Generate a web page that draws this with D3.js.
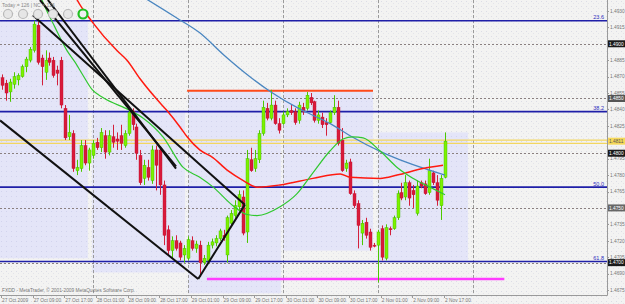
<!DOCTYPE html>
<html><head><meta charset="utf-8">
<script src="https://cdn.jsdelivr.net/npm/d3@7"></script>
<style>body{margin:0;background:#f3f3f3;}svg{display:block}</style>
</head><body><svg id="c" width="625" height="304"></svg>
<script>
// ---- data ----
const timeLabels = ["27 Oct 2009","27 Oct 09:00","27 Oct 17:00","28 Oct 01:00","28 Oct 09:00","28 Oct 17:00","29 Oct 01:00","29 Oct 09:00","29 Oct 17:00","30 Oct 01:00","30 Oct 09:00","30 Oct 17:00","2 Nov 01:00","2 Nov 09:00","2 Nov 17:00"];
const timeLabelBars = [0,8,16,24,32,40,48,56,64,72,80,88,96,104,112];
const open = [1.4869,1.4864,1.4856,1.4863,1.4867,1.4870,1.4879,1.4885,1.4894,1.4917,1.4887,1.4874,1.4887,1.4885,1.4876,1.4885,1.4841,1.4815,1.4818,1.4784,1.4786,1.4807,1.4791,1.4798,1.4810,1.4805,1.4816,1.4801,1.4815,1.4813,1.4816,1.4807,1.4818,1.4838,1.4824,1.4798,1.4777,1.4787,1.4775,1.4803,1.4803,1.4771,1.4730,1.4711,1.4720,1.4718,1.4707,1.4704,1.4720,1.4713,1.4716,1.4700,1.4702,1.4716,1.4718,1.4722,1.4725,1.4707,1.4736,1.4743,1.4751,1.4760,1.4728,1.4794,1.4786,1.4794,1.4818,1.4841,1.4832,1.4844,1.4827,1.4827,1.4835,1.4839,1.4838,1.4830,1.4842,1.4841,1.4851,1.4847,1.4830,1.4833,1.4828,1.4828,1.4837,1.4842,1.4812,1.4786,1.4792,1.4763,1.4754,1.4727,1.4737,1.4728,1.4716,1.4716,1.4731,1.4704,1.4731,1.4731,1.4741,1.4764,1.4760,1.4773,1.4766,1.4745,1.4773,1.4772,1.4764,1.4782,1.4773,1.4752,1.4778];
const high = [1.4872,1.4867,1.4868,1.4874,1.4873,1.4881,1.4888,1.4897,1.4921,1.4920,1.4890,1.4894,1.4892,1.4888,1.4880,1.4888,1.4844,1.4835,1.4821,1.4794,1.4812,1.4812,1.4805,1.4812,1.4814,1.4823,1.4821,1.4821,1.4826,1.4819,1.4826,1.4821,1.4839,1.4841,1.4827,1.4803,1.4794,1.4794,1.4807,1.4807,1.4805,1.4775,1.4734,1.4724,1.4725,1.4720,1.4716,1.4724,1.4724,1.4720,1.4720,1.4707,1.4719,1.4722,1.4725,1.4731,1.4730,1.4743,1.4748,1.4757,1.4766,1.4766,1.4803,1.4805,1.4803,1.4821,1.4848,1.4846,1.4858,1.4848,1.4832,1.4838,1.4841,1.4844,1.4841,1.4847,1.4846,1.4856,1.4855,1.4848,1.4839,1.4837,1.4832,1.4839,1.4853,1.4848,1.4823,1.4794,1.4795,1.4766,1.4757,1.4739,1.4741,1.4731,1.4718,1.4730,1.4734,1.4735,1.4733,1.4743,1.4766,1.4773,1.4780,1.4775,1.4771,1.4775,1.4775,1.4775,1.4795,1.4784,1.4780,1.4780,1.4819];
const low = [1.4858,1.4848,1.4847,1.4859,1.4862,1.4869,1.4874,1.4883,1.4892,1.4881,1.4862,1.4867,1.4880,1.4869,1.4862,1.4841,1.4812,1.4812,1.4783,1.4780,1.4783,1.4789,1.4784,1.4795,1.4803,1.4801,1.4795,1.4798,1.4805,1.4803,1.4803,1.4805,1.4816,1.4821,1.4794,1.4771,1.4771,1.4775,1.4772,1.4766,1.4762,1.4716,1.4707,1.4704,1.4711,1.4702,1.4700,1.4702,1.4711,1.4709,1.4687,1.4698,1.4700,1.4713,1.4715,1.4720,1.4720,1.4700,1.4733,1.4741,1.4748,1.4725,1.4718,1.4783,1.4783,1.4791,1.4816,1.4830,1.4830,1.4826,1.4818,1.4826,1.4833,1.4835,1.4826,1.4827,1.4835,1.4839,1.4844,1.4828,1.4827,1.4823,1.4816,1.4827,1.4835,1.4807,1.4783,1.4783,1.4762,1.4750,1.4713,1.4716,1.4722,1.4711,1.4714,1.4682,1.4702,1.4702,1.4725,1.4730,1.4739,1.4757,1.4757,1.4752,1.4750,1.4743,1.4768,1.4762,1.4762,1.4771,1.4752,1.4739,1.4777];
const close = [1.4862,1.4855,1.4865,1.4870,1.4871,1.4879,1.4886,1.4895,1.4918,1.4883,1.4879,1.4885,1.4883,1.4871,1.4873,1.4844,1.4814,1.4819,1.4786,1.4787,1.4807,1.4791,1.4803,1.4809,1.4805,1.4819,1.4801,1.4816,1.4810,1.4811,1.4809,1.4818,1.4837,1.4826,1.4800,1.4773,1.4789,1.4778,1.4803,1.4789,1.4771,1.4725,1.4711,1.4720,1.4713,1.4705,1.4713,1.4721,1.4713,1.4717,1.4700,1.4704,1.4716,1.4719,1.4722,1.4729,1.4723,1.4741,1.4745,1.4752,1.4762,1.4727,1.4795,1.4784,1.4795,1.4818,1.4842,1.4832,1.4844,1.4827,1.4821,1.4835,1.4838,1.4837,1.4828,1.4844,1.4838,1.4853,1.4846,1.4830,1.4835,1.4826,1.4826,1.4837,1.4842,1.4809,1.4784,1.4791,1.4763,1.4752,1.4734,1.4736,1.4725,1.4714,1.4715,1.4728,1.4705,1.4732,1.4730,1.4741,1.4763,1.4759,1.4773,1.4759,1.4762,1.4770,1.4770,1.4763,1.4784,1.4773,1.4757,1.4777,1.4811];

// moving averages (bar position, price)
const maBlueBar = [36,44,50,56,63,68,75,79,83,88,96,102,112];
const maBlueVal = [1.4942,1.4924,1.4910,1.4890,1.4869,1.4856,1.4841,1.4834,1.4827,1.4816,1.4801,1.4792,1.4780];
const maRedBar = [17,19,22.8,29,31.6,34.9,39.2,41.7,45,46.8,50,53.3,57.1,61,64.5,70.3,78.6,85.5,88,95.6,99.9,106.4,111.5];
const maRedVal = [1.4955,1.4940,1.4920,1.4894,1.4885,1.4868,1.4849,1.4839,1.4824,1.4815,1.4803,1.4796,1.4784,1.4775,1.4769,1.4771,1.4777,1.4781,1.4778,1.4777,1.4780,1.4786,1.4789];
const maGreenBar = [9,10.1,13.4,16.4,18.5,20.5,22.8,25.5,32.4,35.7,40.7,45.8,50,53.4,58.4,62,64.5,70.3,74.6,78.6,82.9,86.2,88.7,91.3,95.6,99.9,104.9,108.2,112];
const maGreenVal = [1.4950,1.4940,1.4915,1.4894,1.4883,1.4871,1.4858,1.4851,1.4839,1.4832,1.4815,1.4787,1.4778,1.4769,1.4752,1.4744,1.4743,1.4751,1.4763,1.4782,1.4802,1.4813,1.4815,1.4814,1.4802,1.4787,1.4775,1.4769,1.4762];

const priceTicks = [1.4930,1.4915,1.4885,1.4870,1.4855,1.4840,1.4825,1.4795,1.4780,1.4765,1.4735,1.4720,1.4705,1.4690,1.4675];
const gridPrices = [1.4900,1.4850,1.4800,1.4750,1.4700];
const gridBoxColors = ["#1a1a1a","#555555","#1a1a1a","#666666","#1a1a1a"];
const gridBars = [23,47,71,95,119];
const fibLevels = [1.4921,1.4838,1.4769,1.4701];
const fibNames = ["23.6","38.2","50.0","61.8"];
const bidPrices = [1.4812,1.4809];
const bidLabel = "1.4811";
// trend lines [bar, price]
const trendLines = [
  [[-0.5,1.4830],[49.6,1.4685]],
  [[7.8,1.4926],[61.4,1.4753]],
  [[9.6,1.4940],[44.0,1.4788]],
  [[11.6,1.4940],[44.0,1.4786]],
  [[49.6,1.4685],[61.4,1.4753]]
];
const hLines = [
  {from:46.8, to:93.8, price:1.4857, color:"#ff4a1a", w:2},
  {from:51.8, to:127, price:1.4685, color:"#ff3cff", w:2.5}
];
const zones = [
  {from:-0.5, to:21.7, top:1.4921, bottom:1.4704},
  {from:22.8, to:46.3, top:1.4839, bottom:1.4691},
  {from:47.0, to:70.5, top:1.4858, bottom:1.4672},
  {from:71.0, to:93.8, top:1.4858, bottom:1.4711},
  {from:95.0, to:117.8, top:1.4819, bottom:1.4702}
];

// ---- drawing ----
const W = 607, H = 295;
const svg = d3.select("#c");
const x = d3.scaleLinear().domain([0,112]).range([2,445]);
const y = d3.scaleLinear().domain([1.4675,1.4940]).range([290,0]);
const font = "'Liberation Sans', Arial, sans-serif";

const defs = svg.append("defs");
const pat = defs.append("pattern").attr("id","dots").attr("width",5).attr("height",5).attr("patternUnits","userSpaceOnUse");
pat.append("rect").attr("width",5).attr("height",5).attr("fill","#f3f3f2");
pat.append("rect").attr("x",1).attr("y",1).attr("width",1).attr("height",1).attr("fill","#dcdce6");
pat.append("rect").attr("x",3).attr("y",3).attr("width",1).attr("height",1).attr("fill","#e4e4ea");
const pat2 = defs.append("pattern").attr("id","dots2").attr("width",5).attr("height",5).attr("patternUnits","userSpaceOnUse");
pat2.append("rect").attr("width",5).attr("height",5).attr("fill","#e4e5f8");
pat2.append("rect").attr("x",1).attr("y",1).attr("width",1).attr("height",1).attr("fill","#d2d3ee");
defs.append("clipPath").attr("id","clip").append("rect").attr("width",W).attr("height",H);

svg.append("rect").attr("width",625).attr("height",304).attr("fill","url(#dots)");
const g = svg.append("g").attr("clip-path","url(#clip)");

// zones
g.selectAll(".zone").data(zones).join("rect")
  .attr("x",d=>x(d.from)).attr("width",d=>x(d.to)-x(d.from))
  .attr("y",d=>y(d.top)).attr("height",d=>y(d.bottom)-y(d.top))
  .attr("fill","url(#dots2)");

// grid
g.selectAll(".vg").data(gridBars).join("line")
  .attr("x1",d=>Math.round(x(d))+0.5).attr("x2",d=>Math.round(x(d))+0.5).attr("y1",0).attr("y2",H)
  .attr("stroke","#9a9a9a").attr("stroke-dasharray","3,2").attr("stroke-width",1);
g.selectAll(".hg").data(gridPrices).join("line")
  .attr("x1",0).attr("x2",W).attr("y1",d=>Math.round(y(d))+0.5).attr("y2",d=>Math.round(y(d))+0.5)
  .attr("stroke","#8a8080").attr("stroke-dasharray","2,2").attr("stroke-width",1);

// yellow bid lines
g.selectAll(".bid").data(bidPrices).join("line")
  .attr("x1",0).attr("x2",W).attr("y1",d=>y(d)).attr("y2",d=>y(d))
  .attr("stroke","#f2d660").attr("stroke-width",1.3);

// fib lines
g.selectAll(".fib").data(fibLevels).join("line")
  .attr("x1",0).attr("x2",W).attr("y1",d=>y(d)).attr("y2",d=>y(d))
  .attr("stroke","#1f1fa8").attr("stroke-width",1.6);
g.selectAll(".fibt").data(fibLevels).join("text")
  .attr("x",604).attr("y",d=>y(d)-1.5).attr("text-anchor","end")
  .attr("font-family",font).attr("font-size",5.5).attr("fill","#3030c0")
  .text((d,i)=>fibNames[i]);

// horizontal segments
g.selectAll(".hl").data(hLines).join("line")
  .attr("x1",d=>x(d.from)).attr("x2",d=>x(d.to)).attr("y1",d=>y(d.price)).attr("y2",d=>y(d.price))
  .attr("stroke",d=>d.color).attr("stroke-width",d=>d.w);

// candles
const idx = d3.range(open.length);
const bull = i => close[i] >= open[i];
g.selectAll(".wick").data(idx).join("line")
  .attr("x1",i=>Math.round(x(i))+0.5).attr("x2",i=>Math.round(x(i))+0.5)
  .attr("y1",i=>y(high[i])).attr("y2",i=>y(low[i]))
  .attr("stroke",i=>bull(i)?"#4cc800":"#d3203c").attr("stroke-width",1);
g.selectAll(".body").data(idx).join("rect")
  .attr("x",i=>Math.round(x(i))-1).attr("width",3)
  .attr("y",i=>y(Math.max(open[i],close[i])))
  .attr("height",i=>Math.max(1,Math.abs(y(open[i])-y(close[i]))))
  .attr("fill",i=>bull(i)?"#7cf200":"#d81a3a")
  .attr("stroke",i=>bull(i)?"#3fb400":"#c01030").attr("stroke-width",0.4);

// moving averages
const line = d3.line().x(d=>x(d[0])).y(d=>y(d[1])).curve(d3.curveMonotoneX);
g.append("path").attr("d",line(maBlueBar.map((b,i)=>[b,maBlueVal[i]]))).attr("fill","none").attr("stroke","#4a86c0").attr("stroke-width",1.3);
g.append("path").attr("d",line(maRedBar.map((b,i)=>[b,maRedVal[i]]))).attr("fill","none").attr("stroke","#ff1a10").attr("stroke-width",1.5);
g.append("path").attr("d",line(maGreenBar.map((b,i)=>[b,maGreenVal[i]]))).attr("fill","none").attr("stroke","#30c830").attr("stroke-width",1.2);

// trend lines
g.selectAll(".tl").data(trendLines).join("line")
  .attr("x1",d=>x(d[0][0])).attr("y1",d=>y(d[0][1])).attr("x2",d=>x(d[1][0])).attr("y2",d=>y(d[1][1]))
  .attr("stroke","#111").attr("stroke-width",2);

// axes frame
svg.append("line").attr("x1",W+0.5).attr("x2",W+0.5).attr("y1",0).attr("y2",H+0.5).attr("stroke","#9a9a9a");
svg.append("line").attr("x1",0).attr("x2",W+0.5).attr("y1",H+0.5).attr("y2",H+0.5).attr("stroke","#9a9a9a");

// price ticks
const pt = svg.append("g");
pt.selectAll("line").data(priceTicks).join("line")
  .attr("x1",W).attr("x2",W+2).attr("y1",d=>Math.round(y(d))+0.5).attr("y2",d=>Math.round(y(d))+0.5).attr("stroke","#9a9a9a");
pt.selectAll("text").data(priceTicks).join("text")
  .attr("x",W+3).attr("y",d=>y(d)+1.8).attr("font-family",font).attr("font-size",4.8).attr("fill","#777")
  .text(d=>d.toFixed(4));
// boxes
const bx = svg.append("g");
bx.selectAll("rect").data(gridPrices).join("rect")
  .attr("x",W+1).attr("y",d=>y(d)-3.5).attr("width",17).attr("height",7).attr("fill",(d,i)=>gridBoxColors[i]);
bx.selectAll("text").data(gridPrices).join("text")
  .attr("x",W+2).attr("y",d=>y(d)+1.8).attr("font-family",font).attr("font-size",4.8).attr("fill","#fff")
  .text(d=>d.toFixed(4));
svg.append("rect").attr("x",W+1).attr("y",y(1.4811)-3.5).attr("width",17).attr("height",7).attr("fill","#f5d85a");
svg.append("text").attr("x",W+2).attr("y",y(1.4811)+1.8).attr("font-family",font).attr("font-size",4.8).attr("fill","#555").text(bidLabel);

// time axis
const ta = svg.append("g");
ta.selectAll("line").data(timeLabelBars).join("line")
  .attr("x1",d=>Math.round(x(d))-0.5).attr("x2",d=>Math.round(x(d))-0.5).attr("y1",H).attr("y2",H+3).attr("stroke","#9a9a9a");
ta.selectAll("text").data(timeLabelBars).join("text")
  .attr("x",d=>x(d)).attr("y",302).attr("font-family",font).attr("font-size",4.8).attr("fill","#777")
  .text((d,i)=>timeLabels[i]);

// captions
svg.append("text").attr("x",2).attr("y",292).attr("font-family",font).attr("font-size",4.8).attr("fill","#777")
  .text("FXDD - MetaTrader, © 2001-2009 MetaQuotes Software Corp.");
svg.append("text").attr("x",2).attr("y",7).attr("font-family",font).attr("font-size",5).attr("fill","#888")
  .text("Today = 126   |   NC = 126");
const btnX = [8,23,38,53,68];
svg.selectAll(".btn").data(btnX).join("circle").attr("cx",d=>d).attr("cy",14).attr("r",4.5)
  .attr("fill","#e6e6e6").attr("stroke","#b8b8b8").attr("stroke-width",1.2);
svg.append("circle").attr("cx",83).attr("cy",14).attr("r",4.5).attr("fill","#f0f0f0").attr("stroke","#22c022").attr("stroke-width",2.2);
</script></body></html>
